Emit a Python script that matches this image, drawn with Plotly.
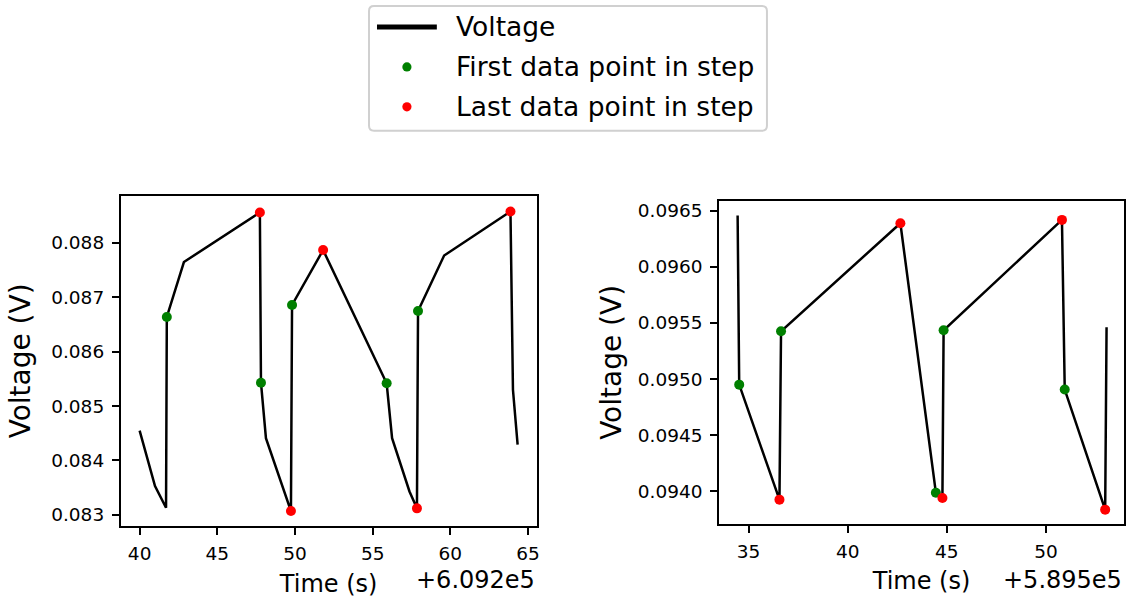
import plotly.graph_objects as go

# ---------------- data ----------------
LEFT_OFFSET = 609200.0
RIGHT_OFFSET = 589500.0

left_time = [609240.00, 609240.99, 609241.70, 609241.75, 609242.85, 609247.74,
             609247.81, 609248.13, 609249.74, 609249.81, 609251.81, 609255.90,
             609256.25, 609257.37, 609257.85, 609257.92, 609259.60, 609263.87,
             609264.03, 609264.33]
left_voltage = [0.08455, 0.08353, 0.08313, 0.08664, 0.08765, 0.08856,
                0.08543, 0.08441, 0.08307, 0.08686, 0.08787, 0.08542,
                0.08441, 0.08343, 0.08312, 0.08675, 0.08777, 0.08858,
                0.08530, 0.08429]
left_first_idx = [3, 6, 9, 11, 15]
left_last_idx = [5, 8, 10, 14, 17]

right_time = [589534.45, 589534.53, 589536.56, 589536.64, 589542.66, 589544.45,
              589544.78, 589544.84, 589550.81, 589550.95, 589552.99, 589553.06]
right_voltage = [0.096455, 0.094950, 0.093926, 0.095425, 0.096387, 0.093988,
                 0.093940, 0.095434, 0.096417, 0.094906, 0.093837, 0.095461]
right_first_idx = [1, 3, 5, 7, 9]
right_last_idx = [2, 4, 6, 8, 10]

left_xticks = [40, 45, 50, 55, 60, 65]
left_yticks = [0.083, 0.084, 0.085, 0.086, 0.087, 0.088]
right_xticks = [35, 40, 45, 50]
right_yticks = [0.0940, 0.0945, 0.0950, 0.0955, 0.0960, 0.0965]

legend_names = ["Voltage", "First data point in step", "Last data point in step"]

# ---------------- figure ----------------
W, H = 1129, 599
FONT = "DejaVu Sans"
GREEN = "#008000"
RED = "#ff0000"

fig = go.Figure()


def add_panel(t, v, first_idx, last_idx, offset, xaxis, yaxis):
    x = [ti - offset for ti in t]
    fig.add_trace(go.Scatter(x=x, y=v, mode="lines", line=dict(color="black", width=2.5),
                             name=legend_names[0],
                             xaxis=xaxis, yaxis=yaxis, showlegend=False, hoverinfo="skip"))
    fig.add_trace(go.Scatter(x=[x[i] for i in first_idx], y=[v[i] for i in first_idx],
                             mode="markers", marker=dict(color=GREEN, size=10),
                             name=legend_names[1],
                             xaxis=xaxis, yaxis=yaxis, showlegend=False))
    fig.add_trace(go.Scatter(x=[x[i] for i in last_idx], y=[v[i] for i in last_idx],
                             mode="markers", marker=dict(color=RED, size=10),
                             name=legend_names[2],
                             xaxis=xaxis, yaxis=yaxis, showlegend=False))


add_panel(left_time, left_voltage, left_first_idx, left_last_idx, LEFT_OFFSET, "x", "y")
add_panel(right_time, right_voltage, right_first_idx, right_last_idx, RIGHT_OFFSET, "x2", "y2")


def px_x(p):
    return p / W


def px_y(p):
    return (H - p) / H


axis_common = dict(showline=True, linecolor="black", linewidth=1.6, mirror=True,
                   ticks="outside", ticklen=7, tickwidth=1.6, tickcolor="black",
                   showgrid=False, zeroline=False,
                   tickfont=dict(family=FONT, size=18.5, color="black"))

xtitle_font = dict(family=FONT, size=24, color="black")
ytitle_font = dict(family=FONT, size=28, color="black")

fig.update_layout(
    width=W, height=H,
    margin=dict(l=0, r=0, t=0, b=0),
    paper_bgcolor="white", plot_bgcolor="white",
    font=dict(family=FONT, color="black"),
    showlegend=False,
    xaxis=dict(domain=[px_x(121), px_x(538)], range=[38.78, 65.55],
               tickvals=left_xticks, anchor="y", ticklabelstandoff=3,
               title=dict(text="Time (s)", standoff=12, font=xtitle_font), **axis_common),
    yaxis=dict(domain=[px_y(526), px_y(195)], range=[0.082793, 0.088870],
               tickvals=left_yticks, tickformat=".3f", anchor="x", ticklabelstandoff=4,
               title=dict(text="Voltage (V)", standoff=12, font=ytitle_font), **axis_common),
    xaxis2=dict(domain=[px_x(721), px_x(1127)], range=[33.515, 53.94],
                tickvals=right_xticks, anchor="y2", ticklabelstandoff=3,
                title=dict(text="Time (s)", standoff=11, font=xtitle_font), **axis_common),
    yaxis2=dict(domain=[px_y(524), px_y(200)], range=[0.093708, 0.096588],
                tickvals=right_yticks, tickformat=".4f", anchor="x2", ticklabelstandoff=4,
                title=dict(text="Voltage (V)", standoff=8, font=ytitle_font), **axis_common),
)

# ---------------- legend box (drawn as decoration) ----------------
bx0, by0, bx1, by1, r = 370, 5, 769, 130, 5
box_path = (f"M {px_x(bx0 + r)},{px_y(by0)} L {px_x(bx1 - r)},{px_y(by0)} "
            f"Q {px_x(bx1)},{px_y(by0)} {px_x(bx1)},{px_y(by0 + r)} "
            f"L {px_x(bx1)},{px_y(by1 - r)} Q {px_x(bx1)},{px_y(by1)} {px_x(bx1 - r)},{px_y(by1)} "
            f"L {px_x(bx0 + r)},{px_y(by1)} Q {px_x(bx0)},{px_y(by1)} {px_x(bx0)},{px_y(by1 - r)} "
            f"L {px_x(bx0)},{px_y(by0 + r)} Q {px_x(bx0)},{px_y(by0)} {px_x(bx0 + r)},{px_y(by0)} Z")
fig.add_shape(type="path", path=box_path, xref="paper", yref="paper",
              line=dict(color="#d0d0d0", width=2), fillcolor="white", layer="above")

row_y = [26, 66, 106]
fig.add_shape(type="line", xref="paper", yref="paper",
              x0=px_x(378), x1=px_x(438), y0=px_y(row_y[0]), y1=px_y(row_y[0]),
              line=dict(color="black", width=5), layer="above")
for yy, col in zip(row_y[1:], [GREEN, RED]):
    rr = 4.6
    fig.add_shape(type="circle", xref="paper", yref="paper",
                  x0=px_x(408 - rr), x1=px_x(408 + rr), y0=px_y(yy + rr), y1=px_y(yy - rr),
                  line=dict(width=0), fillcolor=col, layer="above")
for yy, name in zip(row_y, legend_names):
    fig.add_annotation(text=name, xref="paper", yref="paper", x=px_x(455), y=px_y(yy),
                       xanchor="left", yanchor="middle", showarrow=False,
                       font=dict(family=FONT, size=26.5, color="black"))

# ---------------- offset texts ----------------
fig.add_annotation(text="+6.092e5", xref="paper", yref="paper", x=px_x(538), y=px_y(580),
                   xanchor="right", yanchor="middle", showarrow=False,
                   font=dict(family=FONT, size=24, color="black"))
fig.add_annotation(text="+5.895e5", xref="paper", yref="paper", x=px_x(1127), y=px_y(580),
                   xanchor="right", yanchor="middle", showarrow=False,
                   font=dict(family=FONT, size=24, color="black"))

fig.write_html("out.html")
